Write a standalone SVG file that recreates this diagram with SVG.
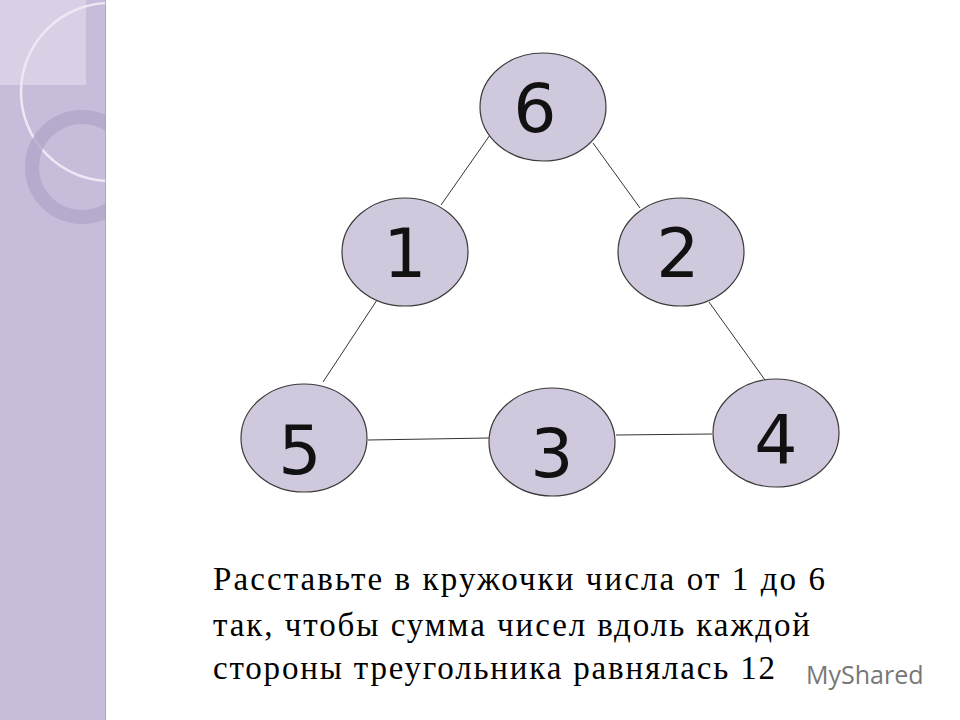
<svg xmlns="http://www.w3.org/2000/svg" width="960" height="720" viewBox="0 0 960 720">
<style>
.n ellipse{fill:#d0c8dc;stroke:#3a3a3a;stroke-width:1.2}
.n text{font-family:"DejaVu Sans",sans-serif;font-size:68px;fill:#111;text-anchor:middle}
.c line{stroke:#333;stroke-width:1}
.t{font-family:"Liberation Serif",serif;font-size:33px;fill:#000}
</style>
<defs><clipPath id="cp"><rect x="0" y="0" width="106" height="720"/></clipPath></defs>
<g id="panel" clip-path="url(#cp)">
<rect x="0" y="0" width="106" height="720" fill="#c7bcd9"/>
<rect x="0" y="0" width="86" height="85" fill="#ddd5e8" opacity="0.8"/>
<circle cx="110" cy="92" r="89" fill="none" stroke="#eee8f5" stroke-width="2.5"/>
<circle cx="82" cy="167" r="50" fill="none" stroke="#b3a6c9" stroke-width="14" opacity="0.8"/>
<line x1="106" y1="0" x2="106" y2="720" stroke="#a99cbd" stroke-width="1.5"/>
</g>
<g id="connectors" class="c">
<line x1="490" y1="135" x2="441" y2="205"/>
<line x1="593" y1="143" x2="640" y2="208"/>
<line x1="377" y1="300" x2="323" y2="382"/>
<line x1="709" y1="302" x2="765" y2="380"/>
<line x1="368" y1="440" x2="489" y2="438"/>
<line x1="616" y1="435" x2="712" y2="434"/>
</g>
<g id="n6" class="n"><ellipse cx="543" cy="107" rx="63" ry="54"/><text x="535" y="132">6</text></g>
<g id="n1" class="n"><ellipse cx="405" cy="252" rx="63" ry="54"/><text x="405" y="277">1</text></g>
<g id="n2" class="n"><ellipse cx="681" cy="252" rx="63" ry="54"/><text x="678" y="277">2</text></g>
<g id="n5" class="n"><ellipse cx="304" cy="438" rx="63" ry="54"/><text x="300" y="474">5</text></g>
<g id="n3" class="n"><ellipse cx="552" cy="442" rx="63" ry="54"/><text x="552" y="477">3</text></g>
<g id="n4" class="n"><ellipse cx="776" cy="433" rx="63" ry="54"/><text x="776" y="464">4</text></g>
<g id="caption" class="t">
<text x="213" y="590" textLength="612" lengthAdjust="spacing">Расставьте в кружочки числа от 1 до 6</text>
<text x="213" y="636" textLength="597" lengthAdjust="spacing">так, чтобы сумма чисел вдоль каждой</text>
<text x="213" y="679" textLength="562" lengthAdjust="spacing">стороны треугольника равнялась 12</text>
</g>
<text x="806" y="684" font-family="'Open Sans',sans-serif" font-size="25" fill="#777">MyShared</text>
</svg>
